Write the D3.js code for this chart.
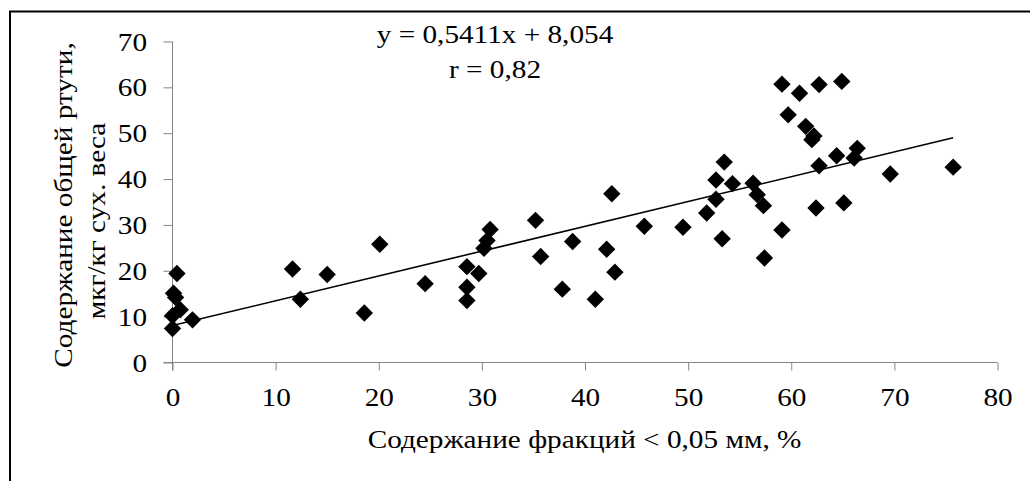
<!DOCTYPE html>
<html>
<head>
<meta charset="utf-8">
<script src="https://cdn.jsdelivr.net/npm/d3@7"></script>
<style>
  html, body { margin: 0; padding: 0; background: #fff; }
  svg { display: block; }
  svg text { font-family: "Times New Roman", "Liberation Serif", Tinos, "DejaVu Serif", serif; fill: #000; }
</style>
</head>
<body>
<svg id="chart" width="1030" height="481"></svg>
<script>
// Fine fraction content (< 0.05 mm), %
const fraction = [
  0.43, 0.1, 0.3, 0.75, 0.0, 0.0, 1.94,
  11.64, 12.4, 15.0, 18.6, 20.1, 24.5,
  28.55, 28.55, 28.55, 29.7, 30.2, 30.5, 30.8,
  35.2, 35.7, 37.8, 38.8, 41.0, 42.1, 42.6, 42.9, 45.75,
  49.5, 51.8, 52.7, 52.7, 53.3, 53.5, 54.3,
  56.3, 56.7, 57.3, 57.4, 59.1, 59.1, 59.7,
  60.8, 61.4, 62.0, 62.2, 62.7, 62.7, 62.4,
  64.4, 64.9, 65.1, 66.1, 66.4, 69.6, 75.7
];
// Total mercury content, µg/kg dry weight
const mercury = [
  19.4, 15.1, 14.2, 11.5, 10.2, 7.4, 9.3,
  20.4, 13.8, 19.2, 10.8, 25.8, 17.2,
  20.9, 16.4, 13.5, 19.4, 24.9, 26.6, 29.0,
  31.0, 23.1, 16.0, 26.4, 13.8, 24.7, 36.8, 19.7, 29.7,
  29.5, 32.6, 35.6, 39.8, 27.0, 43.7, 39.0,
  39.1, 36.6, 34.2, 22.8, 28.9, 60.7, 54.0,
  58.7, 51.5, 48.6, 49.4, 60.6, 42.9, 33.7,
  45.1, 61.3, 34.8, 44.6, 46.7, 41.1, 42.6
];
// Linear fit: y = slope * x + intercept
const slope = 0.5411;
const intercept = 8.054;
const correlation = 0.82;

const xTicks = [0, 10, 20, 30, 40, 50, 60, 70, 80];
const yTicks = [0, 10, 20, 30, 40, 50, 60, 70];

const fmt = v => String(v).replace(".", ",");
const FONT = '"Times New Roman", "Liberation Serif", Tinos, "DejaVu Serif", serif';
const FS = 26;       // font size
const WIDEN = 1.125; // glyphs are set slightly wide along the text direction

const svg = d3.select("#chart");

// outer frame (left and top edges)
svg.append("path")
  .attr("d", "M10,481 V11.5 H1030")
  .attr("fill", "none").attr("stroke", "#000").attr("stroke-width", 2);

const x = d3.scaleLinear().domain([0, 80]).range([172.5, 997.5]);
const y = d3.scaleLinear().domain([0, 70]).range([362.5, 41.5]);

const axisColor = "#868686";

// x axis
const gx = svg.append("g").attr("transform", `translate(0,${y(0)})`)
  .call(d3.axisBottom(x).tickValues(xTicks).tickSize(8).tickFormat(d => d));
gx.attr("font-family", FONT);
gx.select(".domain").attr("stroke", axisColor).attr("d", `M${x(0) - 9},0H${x(80)}`);
gx.selectAll(".tick line").attr("stroke", axisColor);
gx.selectAll(".tick text")
  .attr("font-size", FS).attr("fill", "#000")
  .attr("y", 0).attr("dy", 0)
  .attr("transform", `translate(0,43) scale(${WIDEN},1)`);

// y axis
const gy = svg.append("g").attr("transform", `translate(${x(0)},0)`)
  .call(d3.axisLeft(y).tickValues(yTicks).tickSize(9).tickFormat(d => d));
gy.attr("font-family", FONT);
gy.select(".domain").attr("stroke", axisColor).attr("d", `M0,${y(70)}V${y(0) + 8}`);
gy.selectAll(".tick line").attr("stroke", axisColor);
gy.selectAll(".tick text")
  .attr("font-size", FS).attr("fill", "#000")
  .attr("x", 0).attr("dy", "0.33em")
  .attr("transform", `translate(-25.5,0) scale(${WIDEN},1)`);

// trend line over the data range
const xMin = d3.min(fraction), xMax = d3.max(fraction);
svg.append("line")
  .attr("x1", x(xMin)).attr("y1", y(slope * xMin + intercept))
  .attr("x2", x(xMax)).attr("y2", y(slope * xMax + intercept))
  .attr("stroke", "#000").attr("stroke-width", 1.6);

// diamond markers
const r = 8.7;
const diamond = `M0,${-r}L${r},0L0,${r}L${-r},0Z`;
svg.append("g").selectAll("path")
  .data(d3.range(fraction.length))
  .join("path")
  .attr("d", diamond)
  .attr("transform", i => `translate(${x(fraction[i])},${y(mercury[i])})`)
  .attr("fill", "#000");

// helper for stretched text labels
function label(tx, ty, rot, str) {
  svg.append("text")
    .attr("transform", `translate(${tx},${ty}) rotate(${rot}) scale(${WIDEN},1)`)
    .attr("text-anchor", "middle")
    .attr("font-family", FONT).attr("font-size", FS)
    .text(str);
}

// equation and correlation
label(495, 43, 0, `y = ${fmt(slope)}x + ${fmt(intercept)}`);
label(495, 77.5, 0, `r = ${fmt(correlation)}`);

// axis titles
label(584.5, 448, 0, "Содержание фракций < 0,05 мм, %");
label(71.5, 205, -90, "Содержание общей ртути,");
label(105, 221, -90, "мкг/кг сух. веса");
</script>
</body>
</html>
